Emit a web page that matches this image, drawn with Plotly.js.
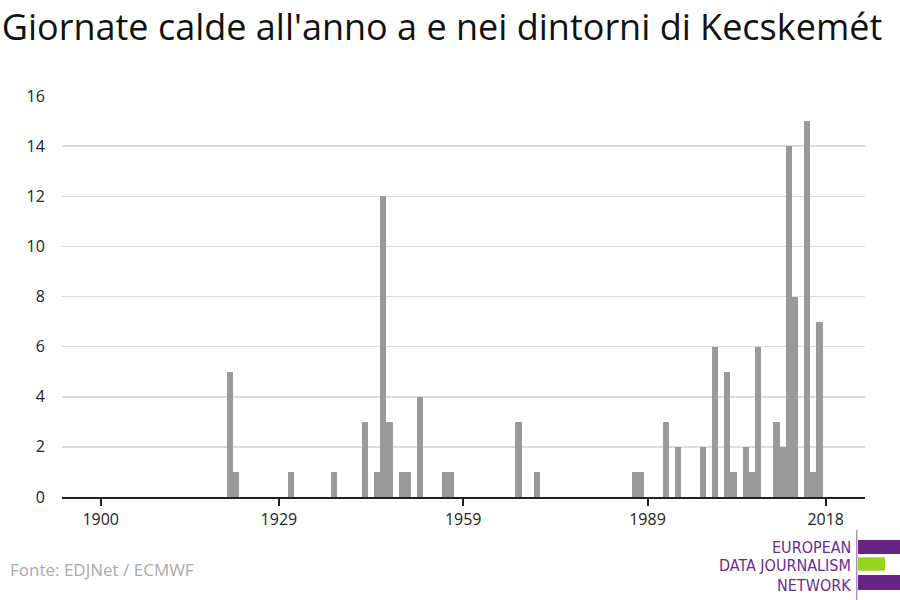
<!DOCTYPE html>
<html>
<head>
<meta charset="utf-8">
<script src="https://cdn.plot.ly/plotly-3.0.1.min.js"></script>
<style>html,body{margin:0;padding:0;background:#fff;}#chart{width:900px;height:600px;}</style>
</head>
<body>
<div id="chart"></div>
<script>
// Hot days per year (years with zero hot days omitted)
const years = [1921, 1922, 1931, 1938, 1943, 1945, 1946, 1947, 1949, 1950, 1952, 1956, 1957, 1968, 1971,
               1987, 1988, 1992, 1994, 1998, 2000, 2002, 2003, 2005, 2006, 2007, 2010, 2011, 2012, 2013, 2015, 2016, 2017];
const hotDays = [5, 1, 1, 1, 3, 1, 12, 3, 1, 1, 4, 1, 1, 3, 1,
                 1, 1, 3, 2, 2, 6, 5, 1, 2, 1, 6, 3, 2, 14, 8, 15, 1, 7];
const xTicks = [1900, 1929, 1959, 1989, 2018];
const yTicks = [0, 2, 4, 6, 8, 10, 12, 14, 16];

const titleText = "Giornate calde all'anno a e nei dintorni di Kecskemét";
const sourceText = "Fonte: EDJNet / ECMWF";
const logoLines = ['EUROPEAN', 'DATA JOURNALISM', 'NETWORK'];

const logoFont = {family: '"Liberation Sans Narrow", "DejaVu Sans Condensed", "Roboto", sans-serif', size: 16, color: '#6b2c91'};
const logoY = [-0.1247, -0.172, -0.2195];

const trace = {
  type: 'bar',
  x: years,
  y: hotDays,
  marker: {color: '#999999', line: {width: 0}},
  hoverinfo: 'x+y'
};

const layout = {
  width: 900, height: 600,
  paper_bgcolor: '#ffffff', plot_bgcolor: '#ffffff',
  margin: {l: 62, r: 35, t: 96, b: 103},
  bargap: 0,
  showlegend: false,
  font: {family: '"Open Sans", sans-serif', color: '#222', size: 16},
  title: {
    text: titleText,
    x: 0.002, xanchor: 'left', xref: 'container',
    y: 0.955, yanchor: 'middle', yref: 'container',
    font: {family: '"Open Sans", sans-serif', size: 36, color: '#111'}
  },
  xaxis: {
    range: [1893.7, 2024.4],
    tickmode: 'array', tickvals: xTicks, ticktext: xTicks.map(String),
    ticks: 'outside', ticklen: 7, tickwidth: 2, tickcolor: '#222',
    showline: true, linecolor: '#222', linewidth: 2,
    showgrid: false, zeroline: false,
    tickfont: {size: 16, color: '#222'}
  },
  yaxis: {
    range: [0, 16],
    tickmode: 'array', tickvals: yTicks, ticktext: yTicks.map(String),
    showgrid: true, gridcolor: '#dddddd', gridwidth: 1.5,
    zeroline: false, showline: false,
    ticks: 'outside', ticklen: 13, tickcolor: 'rgba(0,0,0,0)',
    tickfont: {size: 16, color: '#222'}
  },
  annotations: [
    {text: sourceText, xref: 'paper', yref: 'paper', x: -0.067, y: -0.182,
     xanchor: 'left', yanchor: 'middle', showarrow: false,
     font: {size: 17, color: '#aaaaaa'}}
  ].concat(logoLines.map((t, i) => ({
    text: t, xref: 'paper', yref: 'paper', x: 0.984, y: logoY[i], showarrow: false,
    xanchor: 'right', yanchor: 'middle', borderpad: 0, font: logoFont
  }))),
  shapes: [
    {type: 'line', xref: 'paper', yref: 'paper', x0: 0.9898, x1: 0.9898, y0: -0.0823, y1: -0.257, line: {color: '#8a5cae', width: 1}},
    {type: 'rect', xref: 'paper', yref: 'paper', x0: 0.9913, x1: 1.045, y0: -0.107, y1: -0.142, fillcolor: '#662483', line: {width: 0}},
    {type: 'rect', xref: 'paper', yref: 'paper', x0: 0.9913, x1: 1.0249, y0: -0.1504, y1: -0.1838, fillcolor: '#95d31e', line: {width: 0}},
    {type: 'rect', xref: 'paper', yref: 'paper', x0: 0.9913, x1: 1.045, y0: -0.1945, y1: -0.232, fillcolor: '#662483', line: {width: 0}}
  ]
};

Plotly.newPlot('chart', [trace], layout, {displayModeBar: false, staticPlot: true});
</script>
</body>
</html>
